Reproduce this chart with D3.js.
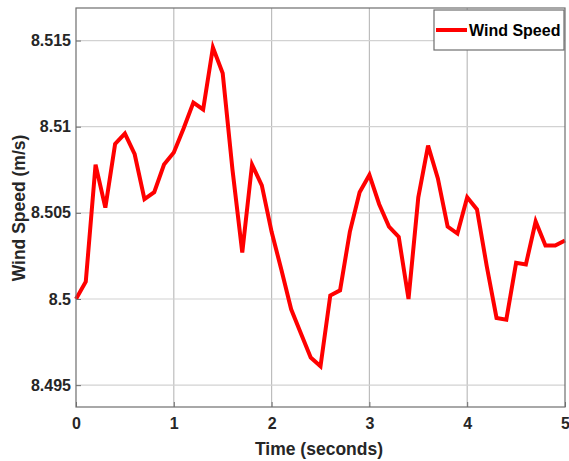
<!DOCTYPE html>
<html><head><meta charset="utf-8">
<script src="https://cdn.jsdelivr.net/npm/d3@7"></script>
<style>body{margin:0;background:#fff}svg{display:block}</style>
</head><body>
<script>
const times = d3.range(51).map(i => +(i * 0.1).toFixed(1));
const windSpeed = [
  8.5000, 8.5010, 8.5078, 8.5053, 8.5090, 8.5096, 8.5084, 8.5058, 8.5062, 8.5078,
  8.5085, 8.5099, 8.5114, 8.5110, 8.5146, 8.5131, 8.5075, 8.5027, 8.5078, 8.5066,
  8.5039, 8.5017, 8.4994, 8.4980, 8.4966, 8.4961, 8.5002, 8.5005, 8.5039, 8.5062,
  8.5072, 8.5055, 8.5042, 8.5036, 8.5000, 8.5059, 8.5089, 8.5070, 8.5042, 8.5038,
  8.5059, 8.5052, 8.5019, 8.4989, 8.4988, 8.5021, 8.5020, 8.5045, 8.5031, 8.5031,
  8.5034];
const xTicks = [0, 1, 2, 3, 4, 5];
const yTicks = [8.495, 8.5, 8.505, 8.51, 8.515];
const yTickLabels = ["8.495", "8.5", "8.505", "8.51", "8.515"];
const seriesName = "Wind Speed";

const W = 569, H = 461;
const L = 76, R = 565, T = 8, B = 407;
const svg = d3.select("body").append("svg").attr("width", W).attr("height", H)
  .style("font-family", "'Liberation Sans', Arial, sans-serif");

const x = d3.scaleLinear().domain([0, 5]).range([L, R]);
const y = d3.scaleLinear().domain([8.5, 8.51]).range([299, 126.7]);

// grid
const g = svg.append("g");
g.selectAll(".gx").data(xTicks.slice(1, -1)).join("line")
  .attr("x1", d => x(d)).attr("x2", d => x(d)).attr("y1", T).attr("y2", B)
  .attr("stroke", "#bdbdbd").attr("stroke-width", 1.2);
g.selectAll(".gy").data(yTicks).join("line")
  .attr("x1", L).attr("x2", R).attr("y1", d => y(d)).attr("y2", d => y(d))
  .attr("stroke", "#d2d2d2").attr("stroke-width", 1.2);

// line
const line = d3.line().x((d, i) => x(times[i])).y(d => y(d));
svg.append("path").datum(windSpeed).attr("d", line)
  .attr("fill", "none").attr("stroke", "#ff0000").attr("stroke-width", 4)
  .attr("stroke-linejoin", "miter");

// box
svg.append("rect").attr("x", L).attr("y", T).attr("width", R - L).attr("height", B - T)
  .attr("fill", "none").attr("stroke", "#6e6e6e").attr("stroke-width", 1.2);

// axes ticks (inside)
const xAxis = d3.axisBottom(x).tickValues(xTicks).tickSize(-5).tickPadding(11).tickFormat(d3.format("d"));
const xg = svg.append("g").attr("transform", `translate(0,${B})`).call(xAxis);
const yAxis = d3.axisLeft(y).tickValues(yTicks).tickSize(-5).tickPadding(5)
  .tickFormat((d, i) => yTickLabels[i]);
const yg = svg.append("g").attr("transform", `translate(${L},0)`).call(yAxis);
[xg, yg].forEach(a => {
  a.select(".domain").remove();
  a.selectAll(".tick line").attr("stroke", "#6e6e6e");
  a.selectAll("text").attr("fill", "#262626").style("font-size", "16px")
    .style("font-weight", "bold").style("font-family", "'Liberation Sans', Arial, sans-serif");
});

// axis titles
svg.append("text").attr("x", 319).attr("y", 455).attr("text-anchor", "middle")
  .style("font-size", "17.5px").style("font-weight", "bold").attr("fill", "#262626")
  .text("Time (seconds)");
svg.append("text").attr("transform", `translate(25,208) rotate(-90)`)
  .attr("text-anchor", "middle").style("font-size", "17.5px").style("font-weight", "bold")
  .attr("fill", "#262626").text("Wind Speed (m/s)");

// legend
const lg = svg.append("g");
lg.append("rect").attr("x", 434).attr("y", 10).attr("width", 130).attr("height", 40)
  .attr("fill", "#fff").attr("stroke", "#6e6e6e").attr("stroke-width", 1.2);
lg.append("line").attr("x1", 436).attr("x2", 467).attr("y1", 30).attr("y2", 30)
  .attr("stroke", "#ff0000").attr("stroke-width", 4);
lg.append("text").attr("x", 469).attr("y", 36).style("font-size", "16px")
  .style("font-weight", "bold").attr("fill", "#000").text(seriesName);
</script>
</body></html>
